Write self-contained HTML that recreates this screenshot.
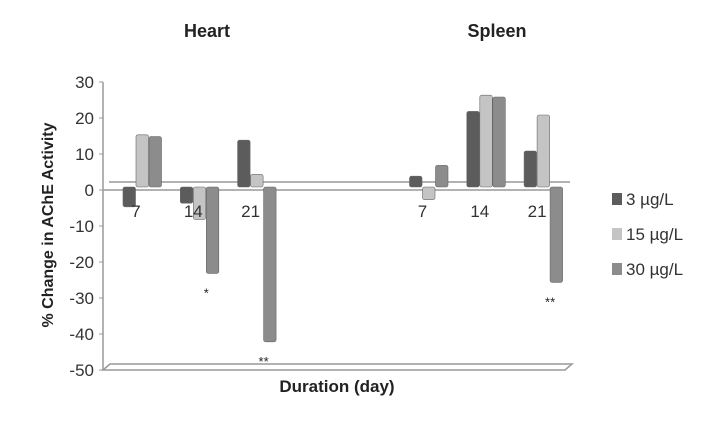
<!DOCTYPE html>
<html><head><meta charset="utf-8"><style>
body{margin:0;background:#fff;width:707px;height:428px;overflow:hidden;font-family:"Liberation Sans",sans-serif}
</style></head><body>
<svg id="c" width="707" height="428" xmlns="http://www.w3.org/2000/svg"></svg>
<script>
const categories=["7","14","21","","","7","14","21"];
const s3=[-5.5,-4.5,13,null,null,3,21,10];
const s15=[14.5,-9,3.5,null,null,-3.5,25.5,20];
const s30=[14,-24,-43,null,null,6,25,-26.5];
const seriesNames=["3 µg/L","15 µg/L","30 µg/L"];
const yTicks=[30,20,10,0,-10,-20,-30,-40,-50];
const marks=[["",""],["*","*"],["","**"],["",""],["",""],["",""],["",""],["","**"]];
const NS="http://www.w3.org/2000/svg";
const svg=document.getElementById('c');
function el(t,a,txt){const e=document.createElementNS(NS,t);for(const k in a)e.setAttribute(k,a[k]);if(txt!=null)e.textContent=txt;svg.appendChild(e);return e;}
const y=v=>190-v*3.6;
const x=i=>142+i*57.3;
const colors=["#5c5c5c","#c4c4c4","#8c8c8c"];
let e=el('line',{x1:103,y1:82,x2:103,y2:370,stroke:'#999','stroke-width':1.5});

yTicks.forEach(t=>{
 let l=el('line',{x1:99,y1:y(t),x2:103,y2:y(t),stroke:'#999'});
 
 let tx=el('text',{x:94,y:y(t)+6,'text-anchor':'end','font-size':17,fill:'#333'},t);
 
});
e=el('line',{x1:103,y1:190,x2:560,y2:190,stroke:'#999','stroke-width':1.5});

e=el('line',{x1:109,y1:182,x2:570,y2:182,stroke:'#999','stroke-width':1.5});

e=el('polygon',{points:'103,370 110,364 572,364 565,370',fill:'none',stroke:'#999','stroke-width':1.5});

const all=[s3,s15,s30];
categories.forEach((c,i)=>{
 all.forEach((s,k)=>{
  const v=s[i]; if(v==null)return;
  const bx=x(i)-19+k*13, base=187, top=base-v*3.6;
  const r=el('rect',{x:bx,y:Math.min(base,top),width:12.5,height:Math.abs(top-base),fill:colors[k],stroke:'#666','stroke-width':0.6,rx:2});
  
 });
 if(c){const t=el('text',{x:x(i)-6,y:217,'text-anchor':'middle','font-size':17,fill:'#333'},c);
 }
 const m=marks[i][1]; if(m){const v=s30[i];
  const t=el('text',{x:x(i)+7,y:187-v*3.6+24,'text-anchor':'middle','font-size':13,fill:'#222'},m);
  }
});
e=el('text',{x:207,y:37,'text-anchor':'middle','font-size':18,'font-weight':'bold',fill:'#222'},'Heart');

e=el('text',{x:497,y:37,'text-anchor':'middle','font-size':18,'font-weight':'bold',fill:'#222'},'Spleen');

e=el('text',{x:0,y:0,transform:'translate(53,225) rotate(-90)','text-anchor':'middle','font-size':16,'font-weight':'bold',fill:'#222'},'% Change in AChE Activity');

e=el('text',{x:337,y:392,'text-anchor':'middle','font-size':17,'font-weight':'bold',fill:'#222'},'Duration (day)');

seriesNames.forEach((n,k)=>{
 const ly=200+k*35;
 let r=el('rect',{x:612,y:ly-7,width:10,height:12,fill:colors[k]});
 
 let t=el('text',{x:626,y:ly+5,'font-size':17,fill:'#333'},n);
 
});
</script>
</body></html>
